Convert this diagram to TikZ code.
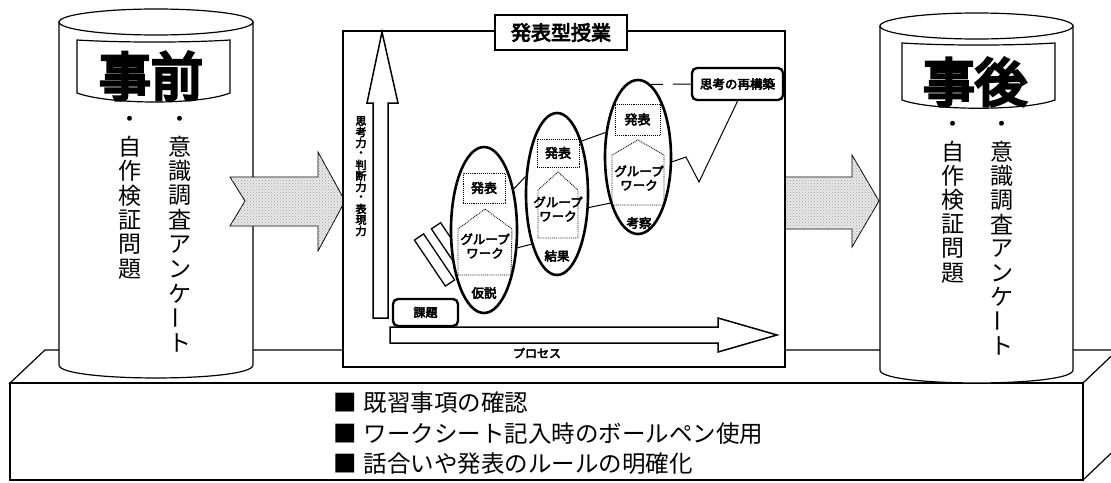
\documentclass[tikz,border=0pt]{standalone}
\usepackage{fontspec}
\newfontfamily\jp{Noto Sans CJK JP}
\newfontfamily\jpb[FakeBold=4]{Noto Sans CJK JP}
\newfontfamily\jpbb[FakeBold=6]{Noto Sans CJK JP}
\usetikzlibrary{shapes.geometric,patterns}
\newcommand\vbar{\rotatebox[origin=c]{90}{ー}}
\begin{document}
\begin{tikzpicture}[x=1pt,y=-1pt,
 ell/.style={shape=ellipse, draw, line width=2.6pt, fill=white, inner sep=0pt},
 dotbox/.style={draw, densely dotted, line width=0.9pt, inner sep=0pt, font=\jpb\fontsize{13}{14}\selectfont},
 small/.style={font=\jpb\fontsize{12.5}{14}\selectfont, align=center, inner sep=0pt},
 rbox/.style={draw, line width=2.4pt, rounded corners=5pt, fill=white, inner sep=0pt},
 vch/.style={inner sep=0pt, font=\jp\fontsize{23}{23}\selectfont},
 ych/.style={inner sep=0pt, font=\jpb\fontsize{11}{11}\selectfont},
 stip/.style={draw, line width=0.8pt, fill=gray!18},
 stipdots/.style={pattern=crosshatch dots, pattern color=gray!75},
 cyl/.style={draw, line width=1.2pt, fill=white},
 thinln/.style={line width=1pt},
 hollow/.style={draw, line width=1.5pt, fill=white},
 bullet/.style={anchor=west, inner sep=0pt, font=\jp\fontsize{23.5}{23.5}\selectfont},
]
\useasboundingbox (0,0) rectangle (1111,482);
\fill[white] (0,0) rectangle (1111,482);

% platform
\draw[cyl] (10,383) -- (45,350) -- (1125,350) -- (1083,383) -- cycle;
\draw[cyl] (1083,383) -- (1125,343) -- (1125,440) -- (1083,480) -- cycle;
\draw[cyl] (10,383) rectangle (1083,480);

% left cylinder
\draw[cyl] (59,22) -- (59,365) .. controls (59,382.3) and (253,382.3) .. (253,365) -- (253,22) -- cycle;
\node[cyl, shape=ellipse, minimum width=194, minimum height=26, inner sep=0pt] (lctop) at (156,22) {};
\draw[cyl] (77,40) .. controls (120,42.7) and (190,42.7) .. (230,40) -- (230,93) .. controls (200,105) and (110,105) .. (77,93) -- cycle;
\node[inner sep=0pt, font=\jpbb\fontsize{52}{52}\selectfont] (pre) at (151,76) {事前};
\foreach \c [count=\i] in {・,意,識,調,査,ア,ン,ケ,\vbar,ト}
  \node[vch] (lq\i) at (180,{122+(\i-1)*24.5}) {\c};
\foreach \c [count=\i] in {・,自,作,検,証,問,題}
  \node[vch] (lp\i) at (130,{122+(\i-1)*24.5}) {\c};

% right cylinder
\draw[cyl] (880,26) -- (880,370) .. controls (880,387.3) and (1073,387.3) .. (1073,370) -- (1073,26) -- cycle;
\node[cyl, shape=ellipse, minimum width=193, minimum height=26, inner sep=0pt] (rctop) at (976.5,26) {};
\draw[cyl] (902,43) .. controls (945,45.7) and (1012,45.7) .. (1055,43) -- (1055,100) .. controls (1025,111) and (932,111) .. (902,100) -- cycle;
\node[inner sep=0pt, font=\jpbb\fontsize{52}{52}\selectfont] (post) at (975,82) {事後};
\foreach \c [count=\i] in {・,意,識,調,査,ア,ン,ケ,\vbar,ト}
  \node[vch] (rq\i) at (1002,{127+(\i-1)*24.3}) {\c};
\foreach \c [count=\i] in {・,自,作,検,証,問,題}
  \node[vch] (rp\i) at (953,{127+(\i-1)*24.3}) {\c};

% stippled arrows
\draw[stip] (230,177) -- (318,177) -- (318,152) -- (345,201) -- (318,251) -- (318,226) -- (230,226) -- (245,201) -- cycle;
\path[stipdots] (230,177) -- (318,177) -- (318,152) -- (345,201) -- (318,251) -- (318,226) -- (230,226) -- (245,201) -- cycle;
\draw[stip] (765,177) -- (852,177) -- (852,155) -- (879,201) -- (852,247) -- (852,229) -- (765,229) -- (780,201) -- cycle;
\path[stipdots] (765,177) -- (852,177) -- (852,155) -- (879,201) -- (852,247) -- (852,229) -- (765,229) -- (780,201) -- cycle;

% central panel
\draw[line width=2.2pt, fill=white] (343,31) rectangle (785,367);
\node[draw, line width=2.8pt, fill=white, minimum width=132, minimum height=35, inner sep=0pt,
      font=\jpb\fontsize{20}{20}\selectfont] (title) at (561,32.5) {発表型授業};

% up arrow
\draw[hollow] (373,318) -- (373,103) -- (367,103) -- (382,32) -- (398,103) -- (388,103) -- (388,318) -- cycle;
\foreach \c [count=\i] in {思,考,力,・,判,断,力,・,表,現,力}
  \node[ych] (yl\i) at (361,{121+(\i-1)*11}) {\c};

% process arrow
\draw[hollow] (390,327) -- (718,327) -- (718,318) -- (777,335) -- (718,352) -- (718,343) -- (390,343) -- cycle;
\node[small, font=\jpb\fontsize{12}{12}\selectfont] (proc) at (537,353) {プロセス};

% start box
\node[rbox, minimum width=65, minimum height=27, font=\jpb\fontsize{12}{12}\selectfont] (kadai) at (425.5,312.5) {課題};

% tilted bars
\draw[line width=1.3pt, fill=white] (431.4,228.9) -- (440.6,222.7) -- (468.6,264.2) -- (459.4,270.4) -- cycle;
\draw[line width=1.3pt, fill=white] (414.4,240.1) -- (423.6,233.9) -- (454.6,279.9) -- (445.4,286.1) -- cycle;

% ellipses
\node[ell, minimum width=66, minimum height=166] (e1) at (484,230) {};
\node[ell, minimum width=62, minimum height=162] (e2) at (557,194) {};
\node[ell, minimum width=66, minimum height=154] (e3) at (638,157) {};

% ellipse 1 contents
\node[dotbox, minimum width=42, minimum height=30] (h1) at (484,188) {発表};
\draw[densely dotted, line width=0.9pt] (458,275) -- (458,229) -- (485,209) -- (512,229) -- (511,275) -- cycle;
\node[small] (g1) at (485,246) {グループ\\ワーク};
\node[small] (l1) at (484,293) {仮説};
% ellipse 2 contents
\node[dotbox, minimum width=42, minimum height=28] (h2) at (558,153) {発表};
\draw[densely dotted, line width=0.9pt] (538,238) -- (538,190) -- (558,172) -- (578,190) -- (578,238) -- cycle;
\node[small] (g2) at (558,209) {グループ\\ワーク};
\node[small] (l2) at (557,256) {結果};
% ellipse 3 contents
\node[dotbox, minimum width=45, minimum height=31] (h3) at (637.5,119.5) {発表};
\draw[densely dotted, line width=0.9pt] (612,205) -- (612,155) -- (638,140) -- (664,155) -- (664,205) -- cycle;
\node[small] (g3) at (639,178) {グループ\\ワーク};
\node[small] (l3) at (639,223) {考察};

% reconstruction box
\node[rbox, minimum width=91, minimum height=32, font=\jpb\fontsize{12.5}{13}\selectfont] (recon) at (737.5,84) {思考の再構築};

% connectors
\draw[thinln] (e1.54) -- (e2.151);
\draw[thinln] (e1.-28) -- (e2.243);
\draw[thinln] (e2.65) -- (e3.143);
\draw[thinln] (e2.-23) -- (e3.239);
\coordinate (z1) at (686,157);
\coordinate (z2) at (699,182);
\draw[thinln] (e3.-8) -- (z1) -- (z2) -- (recon.south);
\draw[thinln, dash pattern=on 12pt off 10pt on 30pt] (e3.80) -- (recon.west);

% bottom texts
\node[bullet] (b1) at (333,403) {■\hspace{7pt}既習事項の確認};
\node[bullet] (b2) at (333,434) {■\hspace{7pt}ワークシート記入時のボールペン使用};
\node[bullet] (b3) at (333,464) {■\hspace{7pt}話合いや発表のルールの明確化};
\end{tikzpicture}
\end{document}
